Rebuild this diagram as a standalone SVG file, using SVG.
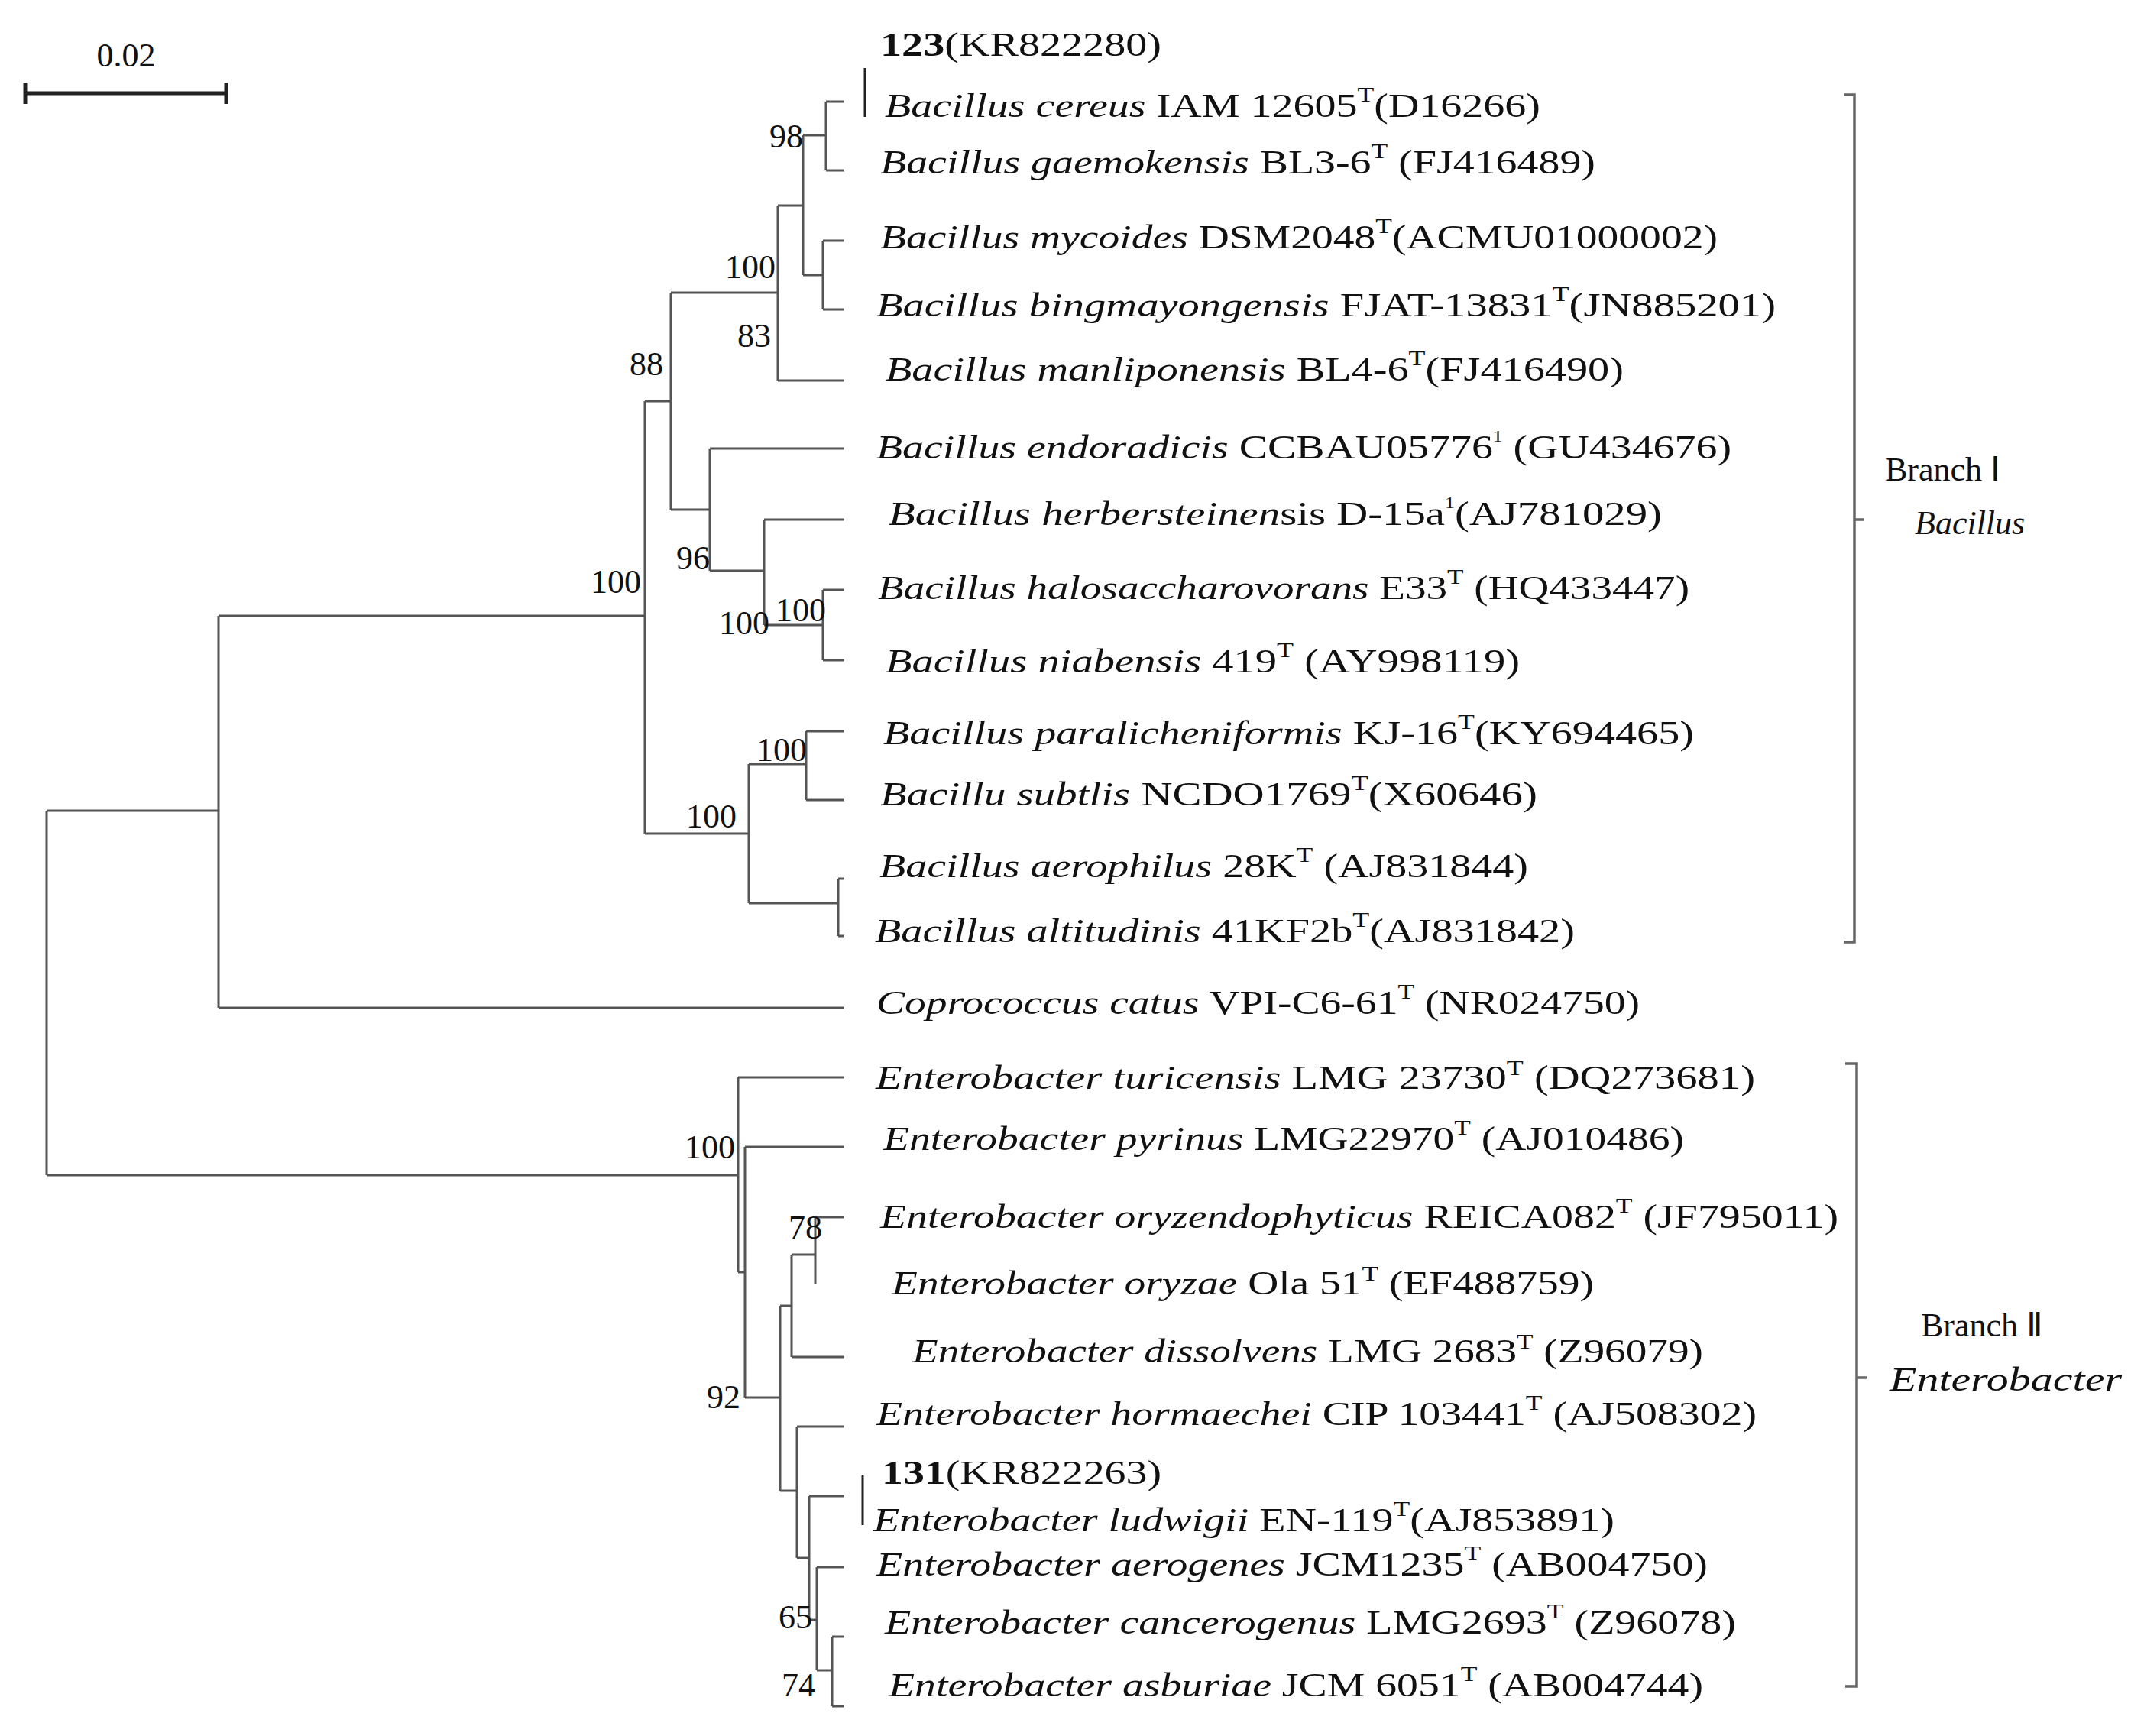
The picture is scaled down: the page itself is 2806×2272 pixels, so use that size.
<svg xmlns="http://www.w3.org/2000/svg" width="2806" height="2272" viewBox="0 0 2806 2272">
<style>
text{font-family:"Liberation Serif","Times New Roman",serif;font-size:44px;fill:#111}
.i{font-style:italic}
.b{font-weight:bold}
.bs{text-anchor:end}
.t{stroke:#555;stroke-width:3;fill:none}
.br{stroke:#666;stroke-width:3.5;fill:none}
</style>
<rect width="2806" height="2272" fill="#fff"/>
<g id="scale">
<path d="M33 122H296M33 108V136M296 108V136" stroke="#222" stroke-width="5" fill="none"/>
<text x="165" y="87" text-anchor="middle" font-size="40">0.02</text>
</g>
<g id="connectors" class="t">
<path d="M61 1061V1538M61 1061H286M61 1538H966"/>
<path d="M286 806V1319M286 1319H1105M286 806H844"/>
<path d="M844 525V1091M844 525H878M844 1091H980"/>
<path d="M878 383V667M878 383H1018M878 667H929"/>
<path d="M1018 269V498M1018 498H1105M1018 269H1051"/>
<path d="M1051 177V360M1051 177H1081M1051 360H1077"/>
<path d="M1081 133V223M1081 133H1105M1081 223H1105"/>
<path d="M1077 315V405M1077 315H1105M1077 405H1105"/>
<path d="M929 587V747M929 587H1105M929 747H1000"/>
<path d="M1000 680V818M1000 680H1105M1000 818H1077"/>
<path d="M1077 772V864M1077 772H1105M1077 864H1105"/>
<path d="M980 1000V1182M980 1000H1055M980 1182H1097"/>
<path d="M1055 957V1047M1055 957H1105M1055 1047H1105"/>
<path d="M1097 1150V1225M1097 1150H1105M1097 1225H1105"/>
<path d="M966 1410V1665M966 1410H1105M966 1665H975"/>
<path d="M975 1501V1829M975 1501H1105M975 1829H1021"/>
<path d="M1021 1709V1951M1021 1709H1036M1021 1951H1043"/>
<path d="M1036 1642V1776M1036 1776H1105M1036 1642H1067"/>
<path d="M1067 1593V1680M1067 1593H1105"/>
<path d="M1043 1867V2039M1043 1867H1105M1043 2039H1059"/>
<path d="M1059 1958V2120M1059 1958H1105M1059 2120H1069"/>
<path d="M1069 2051V2186M1069 2051H1105M1069 2186H1089"/>
<path d="M1089 2142V2233M1089 2142H1105M1089 2233H1105"/>
<path d="M1132 89V153M1129 1931V1996" stroke="#222"/>
</g>
<g id="bootstrap" class="bs">
<text class="bs" x="1051" y="193">98</text>
<text class="bs" x="1015" y="364">100</text>
<text class="bs" x="1009" y="454">83</text>
<text class="bs" x="868" y="491">88</text>
<text class="bs" x="839" y="776">100</text>
<text class="bs" x="929" y="745">96</text>
<text class="bs" x="1007" y="830">100</text>
<text class="bs" x="1081" y="813">100</text>
<text class="bs" x="1056" y="996">100</text>
<text class="bs" x="964" y="1083">100</text>
<text class="bs" x="962" y="1516">100</text>
<text class="bs" x="969" y="1843">92</text>
<text class="bs" x="1076" y="1621">78</text>
<text class="bs" x="1063" y="2131">65</text>
<text class="bs" x="1067" y="2220">74</text>
</g>
<g id="taxa">
<text x="1152" y="73" textLength="368" lengthAdjust="spacingAndGlyphs"><tspan class="b">123</tspan>(KR822280)</text>
<text x="1158" y="153" textLength="858" lengthAdjust="spacingAndGlyphs"><tspan class="i">Bacillus cereus</tspan> IAM 12605<tspan font-size="28" dy="-20">T</tspan><tspan dy="20">(D16266)</tspan></text>
<text x="1152" y="227" textLength="936" lengthAdjust="spacingAndGlyphs"><tspan class="i">Bacillus gaemokensis</tspan> BL3-6<tspan font-size="28" dy="-20">T</tspan><tspan dy="20"> (FJ416489)</tspan></text>
<text x="1152" y="325" textLength="1096" lengthAdjust="spacingAndGlyphs"><tspan class="i">Bacillus mycoides</tspan> DSM2048<tspan font-size="28" dy="-20">T</tspan><tspan dy="20">(ACMU01000002)</tspan></text>
<text x="1147" y="414" textLength="1177" lengthAdjust="spacingAndGlyphs"><tspan class="i">Bacillus bingmayongensis</tspan> FJAT-13831<tspan font-size="28" dy="-20">T</tspan><tspan dy="20">(JN885201)</tspan></text>
<text x="1159" y="498" textLength="966" lengthAdjust="spacingAndGlyphs"><tspan class="i">Bacillus manliponensis</tspan> BL4-6<tspan font-size="28" dy="-20">T</tspan><tspan dy="20">(FJ416490)</tspan></text>
<text x="1147" y="600" textLength="1119" lengthAdjust="spacingAndGlyphs"><tspan class="i">Bacillus endoradicis</tspan> CCBAU05776<tspan font-size="20" dy="-22">1</tspan><tspan dy="22"> (GU434676)</tspan></text>
<text x="1163" y="687" textLength="1012" lengthAdjust="spacingAndGlyphs"><tspan class="i">Bacillus herbersteinen</tspan>sis D-15a<tspan font-size="20" dy="-22">1</tspan><tspan dy="22">(AJ781029)</tspan></text>
<text x="1149" y="784" textLength="1062" lengthAdjust="spacingAndGlyphs"><tspan class="i">Bacillus halosaccharovorans</tspan> E33<tspan font-size="28" dy="-20">T</tspan><tspan dy="20"> (HQ433447)</tspan></text>
<text x="1159" y="880" textLength="830" lengthAdjust="spacingAndGlyphs"><tspan class="i">Bacillus niabensis</tspan> 419<tspan font-size="28" dy="-20">T</tspan><tspan dy="20"> (AY998119)</tspan></text>
<text x="1156" y="974" textLength="1061" lengthAdjust="spacingAndGlyphs"><tspan class="i">Bacillus paralicheniformis</tspan> KJ-16<tspan font-size="28" dy="-20">T</tspan><tspan dy="20">(KY694465)</tspan></text>
<text x="1152" y="1054" textLength="860" lengthAdjust="spacingAndGlyphs"><tspan class="i">Bacillu subtlis</tspan> NCDO1769<tspan font-size="28" dy="-20">T</tspan><tspan dy="20">(X60646)</tspan></text>
<text x="1151" y="1148" textLength="849" lengthAdjust="spacingAndGlyphs"><tspan class="i">Bacillus aerophilus</tspan> 28K<tspan font-size="28" dy="-20">T</tspan><tspan dy="20"> (AJ831844)</tspan></text>
<text x="1145" y="1233" textLength="916" lengthAdjust="spacingAndGlyphs"><tspan class="i">Bacillus altitudinis</tspan> 41KF2b<tspan font-size="28" dy="-20">T</tspan><tspan dy="20">(AJ831842)</tspan></text>
<text x="1147" y="1327" textLength="999" lengthAdjust="spacingAndGlyphs"><tspan class="i">Coprococcus catus</tspan> VPI-C6-61<tspan font-size="28" dy="-20">T</tspan><tspan dy="20"> (NR024750)</tspan></text>
<text x="1146" y="1425" textLength="1151" lengthAdjust="spacingAndGlyphs"><tspan class="i">Enterobacter turicensis</tspan> LMG 23730<tspan font-size="28" dy="-18">T</tspan><tspan dy="18"> (DQ273681)</tspan></text>
<text x="1156" y="1505" textLength="1048" lengthAdjust="spacingAndGlyphs"><tspan class="i">Enterobacter pyrinus</tspan> LMG22970<tspan font-size="28" dy="-20">T</tspan><tspan dy="20"> (AJ010486)</tspan></text>
<text x="1152" y="1607" textLength="1254" lengthAdjust="spacingAndGlyphs"><tspan class="i">Enterobacter oryzendophyticus</tspan> REICA082<tspan font-size="28" dy="-20">T</tspan><tspan dy="20"> (JF795011)</tspan></text>
<text x="1167" y="1694" textLength="919" lengthAdjust="spacingAndGlyphs"><tspan class="i">Enterobacter oryzae</tspan> Ola 51<tspan font-size="28" dy="-18">T</tspan><tspan dy="18"> (EF488759)</tspan></text>
<text x="1194" y="1783" textLength="1035" lengthAdjust="spacingAndGlyphs"><tspan class="i">Enterobacter dissolvens</tspan> LMG 2683<tspan font-size="28" dy="-18">T</tspan><tspan dy="18"> (Z96079)</tspan></text>
<text x="1147" y="1865" textLength="1152" lengthAdjust="spacingAndGlyphs"><tspan class="i">Enterobacter hormaechei</tspan> CIP 103441<tspan font-size="28" dy="-20">T</tspan><tspan dy="20"> (AJ508302)</tspan></text>
<text x="1154" y="1942" textLength="366" lengthAdjust="spacingAndGlyphs"><tspan class="b">131</tspan>(KR822263)</text>
<text x="1143" y="2004" textLength="970" lengthAdjust="spacingAndGlyphs"><tspan class="i">Enterobacter ludwigii</tspan> EN-119<tspan font-size="28" dy="-20">T</tspan><tspan dy="20">(AJ853891)</tspan></text>
<text x="1147" y="2062" textLength="1088" lengthAdjust="spacingAndGlyphs"><tspan class="i">Enterobacter aerogenes</tspan> JCM1235<tspan font-size="28" dy="-20">T</tspan><tspan dy="20"> (AB004750)</tspan></text>
<text x="1158" y="2138" textLength="1114" lengthAdjust="spacingAndGlyphs"><tspan class="i">Enterobacter cancerogenus</tspan> LMG2693<tspan font-size="28" dy="-20">T</tspan><tspan dy="20"> (Z96078)</tspan></text>
<text x="1163" y="2220" textLength="1066" lengthAdjust="spacingAndGlyphs"><tspan class="i">Enterobacter asburiae</tspan> JCM 6051<tspan font-size="28" dy="-20">T</tspan><tspan dy="20"> (AB004744)</tspan></text>
</g>
<g id="branch1">
<path class="br" d="M2413 124H2427V1233H2413M2427 680H2440"/>
<text x="2467" y="629">Branch Ⅰ</text>
<text class="i" x="2506" y="699">Bacillus</text>
</g>
<g id="branch2">
<path class="br" d="M2415 1392H2430V2207H2415M2430 1803H2443"/>
<text x="2514" y="1749">Branch Ⅱ</text>
<text class="i" x="2473" y="1820" textLength="304" lengthAdjust="spacingAndGlyphs">Enterobacter</text>
</g>
</svg>
